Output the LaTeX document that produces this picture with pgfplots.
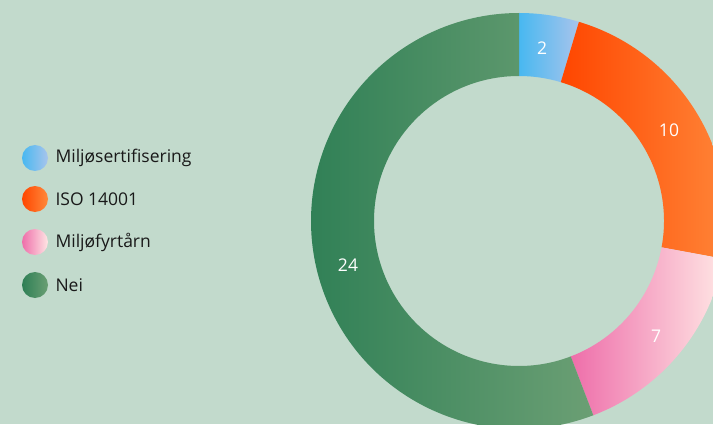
\documentclass[border=0pt]{standalone}
\usepackage{pgfplots}
\pgfplotsset{compat=1.18}
\usepackage{fontspec}
\setmainfont{Open Sans}
\definecolor{bg}{HTML}{C2DACC}
\definecolor{blueA}{HTML}{48B8F0}
\definecolor{blueB}{HTML}{A8C4EC}
\definecolor{orangeA}{HTML}{FF4600}
\definecolor{orangeB}{HTML}{FF8A3C}
\definecolor{pinkA}{HTML}{EE6EAA}
\definecolor{pinkB}{HTML}{FFE6E4}
\definecolor{greenA}{HTML}{2E7F55}
\definecolor{greenB}{HTML}{6B9F74}
% donut centre (axis units = pt), radii
\def\cx{519}\def\cy{203}\def\ro{208pt}\def\ri{145pt}
\def\total{43}
% #1 cumulative before, #2 cumulative after, #3/#4 gradient colours
\newcommand\slice[4]{%
  \path[left color=#3, right color=#4]
    ([shift={({90-360*#1/\total}:\ro)}]axis cs:\cx,\cy)
    arc[start angle={90-360*#1/\total}, end angle={90-360*#2/\total}, radius=\ro]
    -- ([shift={({90-360*#2/\total}:\ri)}]axis cs:\cx,\cy)
    arc[start angle={90-360*#2/\total}, end angle={90-360*#1/\total}, radius=\ri]
    -- cycle;}
\newcommand\legitem[4]{%
  \path[left color=#3, right color=#4] (axis cs:35,#1) circle[radius=13pt];
  \node[anchor=west, text=black!90, font=\fontsize{17.5}{20}\selectfont] at (axis cs:52,#1) {#2};}
\begin{document}
\begin{tikzpicture}
\begin{axis}[
  scale only axis, width=713pt, height=424pt,
  xmin=0, xmax=713, ymin=0, ymax=424,
  hide axis, clip=true]
\fill[bg] (axis cs:0,0) rectangle (axis cs:713,424);
% values: 2, 10, 7, 24
\slice{0}{2}{blueA}{blueB}
\slice{2}{12}{orangeA}{orangeB}
\slice{12}{19}{pinkA}{pinkB}
\slice{19}{43}{greenA}{greenB}
\begin{scope}[every node/.style={text=white, font=\fontsize{17.5}{20}\selectfont}]
\node at (axis cs:542,376) {2};
\node at (axis cs:669,294) {10};
\node at (axis cs:656,88) {7};
\node at (axis cs:348,159) {24};
\end{scope}
\legitem{266}{Miljøsertifisering}{blueA}{blueB}
\legitem{225}{ISO 14001}{orangeA}{orangeB}
\legitem{182}{Miljøfyrtårn}{pinkA}{pinkB}
\legitem{139}{Nei}{greenA}{greenB}
\end{axis}
\pgfresetboundingbox
\path[use as bounding box] (0,0) rectangle (713pt,424pt);
\end{tikzpicture}
\end{document}
